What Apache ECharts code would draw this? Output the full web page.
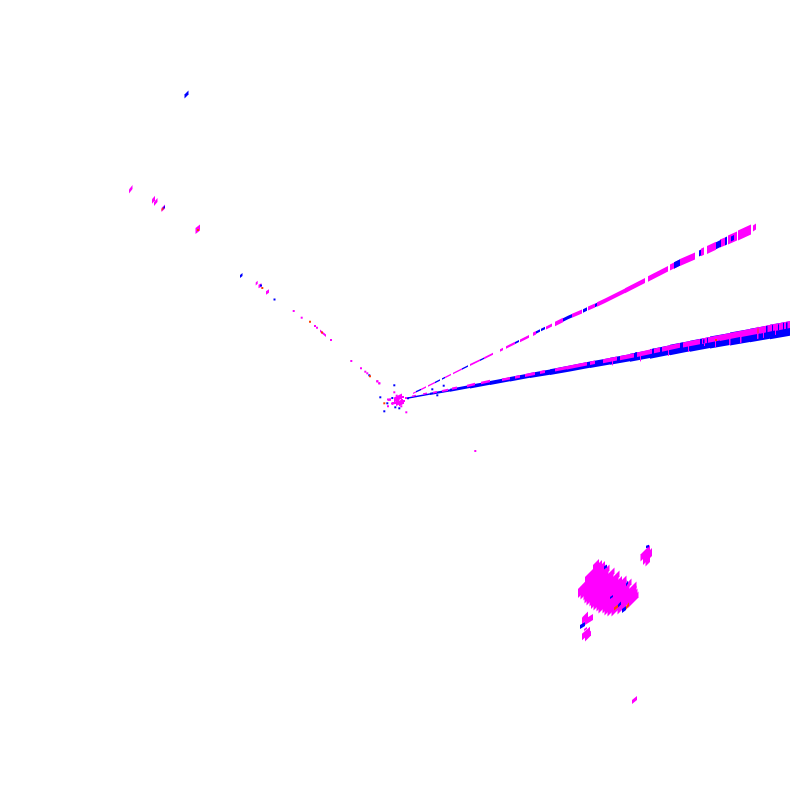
<!DOCTYPE html>
<html><head><meta charset="utf-8">
<style>html,body{margin:0;padding:0;background:#fff}#c{width:800px;height:800px}</style>
<script src="https://cdn.jsdelivr.net/npm/echarts@6/dist/echarts.min.js"></script>
</head><body><div id="c"></div>
<script>
// Each run: [x0, y0, x1, y1, spread]
const lowerRayBase = [
[408,398,430,393.9,1.5],[430,393.9,450,390.3,2.2],[450,390.3,470,386.6,3],[470,386.6,490,383,3.6],
[490,383,510,379.2,4],[510,379.2,530,375.5,4.6],[530,375.5,550,372.2,5.2],[550,372.2,570,368.5,5.8],
[570,368.5,590,364.7,6.2],[590,364.7,610,361.2,6.5],[610,361.2,630,357.8,7],[630,357.8,650,354,8],
[650,354,670,350,9.5],[670,350,690,346.2,10.3],[690,346.2,710,342.5,11],[710,342.5,730,339,11.8],
[730,339,750,335.5,12.8],[750,335.5,770,332,13.7],[770,332,790,328.5,14.7]
];
const lowerRayMagenta = [
[412,396.2,416,395.4,1.4],[423,394,427,393.2,1.4],[433,392.6,437,391.8,1.8],[442,391,448,389.8,2.2],
[452,388.6,457,387.6,2.2],[467,386,475,384,2.6],[481,383,490,381,2.6],[502,379.8,510,378.2,2.6],
[515,377.3,520,376.3,2.8],[525,375.4,535,373.4,3],[540,372.4,545,371.4,3],[555,370,567,367.6,3.2],
[567,367.8,587,363.7,3.6],[590,363.2,595,362.3,3.6],[603,361.2,617,358.5,4],[620,358.1,634,355.3,4.2],
[637,354.8,652,351.4,4.6],[654,351,660,349.6,4.6],[662,349.3,680,345.4,4.8],[683,345,700,341.6,5.2],[702,341.2,720,337.8,5.6],
[720,337.9,740,334,6],[740,334.1,760,330.2,6.4],[760,330.4,775,327.2,6.8],[775,327.4,790,324.5,7],
[704,343,705,343,6],[729,341.5,730.5,341.2,7],[740,337.5,741.5,337.2,11],[757,333,758.5,332.7,12],[763,333,764,332.8,10],[775,331,776,330.8,8],
[612,362,613,361.8,7],[640,357,641,356.8,9],[668,351,669,350.8,10],[688,347,689,346.8,10],[715,342,716,341.8,10]
];
const upperRayMagenta = [
[413,393.3,416,391.8,1.2],[421,389.5,426,387,1.4],[428,386,435,382.5,1.4],[445,377.5,451,374.5,1.6],
[453,373.5,462,369,1.7],[470,365,480,360.2,1.8],[484,358.2,493,353.8,2],[500,350.5,503,349,2.4],
[506,347.5,515,343,2.4],[520,340.8,529,336.3,2.8],[533,334.3,536,332.8,3.4],[546,328,552,325,3],
[555,324,563,320,4.5],[572,315.8,582,311.5,4],[588,308.6,595,305.5,4],[597,304.6,605,300.8,4.5],
[605,300.8,625,290.8,4.6],[625,290.8,645,280.5,5],[648,279,668,268.8,5.5],[670,267.6,680,262.5,6],
[680,262.5,695,256,7],[701,252.5,704,251,7.5],[707,250,716,245.8,8],[720,243.5,725,241.5,8],
[728,240,737,236,9],[738,235.5,751,229.5,10],[753,228.5,756,226.5,6]
];
const blobMagenta = [
[593,568,599,562,6],[585,580,602,563,6],[578,592,605,564,6],[578,595,605.5,567.5,6],
[580.5,596.5,609.5,567.5,6],[583.5,597.5,608.5,572.5,6],[584.5,600.5,614.5,570.5,6],[586.5,602.5,613.5,575.5,6],
[589.5,603.5,619.5,573.5,6],[591,606,618.5,578.5,6],[593.5,607.5,622,579,6],[596.5,608.5,626.5,578.5,6],
[598.5,610.5,626.5,582.5,6],[602.5,610.5,631.5,581.5,6],[604.5,612.5,629.5,587.5,6],[607.5,613.5,636.5,584.5,6],
[611.5,613.5,636.5,588.5,6],[617.5,611.5,637.5,591.5,6],[627.5,605.5,638.5,594.5,6]
];
const smallBlobsMagenta = [
[640.5,558,650,548.5,7],[643,561,652,552,8],[645.5,563,650,558.5,7],
[582,621,588,615,7],[585,622,593,617,6],[584,630,587,628,2],
[582,637,590,630,6.5],[585,639,591,633,5],[632,702,637,698,4],
[129,191.5,132.5,187,4],[152,201.5,155,198,4.5],[154,204,157.5,200,4],[161.5,210,165,206.5,4],[195.5,231,200,227.5,6],
[255.7,284,257.7,282.3,3],[258.5,286.5,261.5,285,3.5],[266,293,269,291,3.5],[320,330.7,326,335.7,2.6],
[394,400,402,396,5],[396,404,403,401,4],[388,400,391,399.5,2],[392,404,396.5,402.5,2],[399,405,404,402,3]
];
const blueMarks = [
[416,391.8,421,389.5,1.4],[435,382.5,440,380,1.5],[442,379,445,377.5,1.4],[462,369,468,366,1.6],
[480,360.2,484,358.2,1.6],[515,343,519,341,2.2],[536,332.5,540,330.5,2.5],[541,330,545,328,2.5],
[563,320,568,317.6,3.5],[568,317.6,572,315.8,3.5],[583,311,587,309,3.5],[595,305.5,597,304.5,3.5],
[674,265.5,680,262.5,6.5],[699,253.5,701,252.5,6],[716,245.8,721,243.3,7],[725,241.5,727,240.5,8],[731,239,734,237.5,5],
[766,330.5,767.5,330.2,9],[772,329.2,773,329,8],[778,327.5,779,327.3,6],[783,326.5,784,326.3,7],[786,326,787.5,325.7,7],
[707,340.5,708,340.3,5],[703,341.5,704.5,341.2,4],[635,355,637,354.6,5],[652,351.4,654,351,5],[680,345.5,683,345,5],
[184.5,96.5,188.5,92.5,4],[240,276.5,242.5,274.5,3],[580,627,585,624,4],[646,547,649,546,2.5],
[604,568,607,566,3],[626,585,628,582,3],[610,598,613,596,2],[618,606,621,603,3],[622,611,626,608,4],
[162.5,209,165,206.5,2]
];
const orangeMarks = [
[614,609,618,606,3],[626,608,629,604,3.5],[161.5,210,163.5,208,2],[757.5,331,758.5,330.8,5]
];
const magentaDots = [
[377.3,381.3],[379.3,383.3],[394.3,392.3],[396.7,395.7],[398,397],[396,398],[398,400],[397,402],[395,403],[393,403],
[388,399.5],[390,399.5],[392,403.5],[401,398],[403,397],[402,400],[404,401],[401,403],[403,403],[388,406.3],[401.3,406.3],
[406.3,412.3],[475.3,451],[293.7,311],[301.7,317.7],[315,326],[317,327.7],[331,340],[351.3,361],[361,368.3],[365.3,371.7],
[367.3,373.3],[377.3,381.3],[379.3,383.3],[406,398]
];
const blueDots = [
[394.3,385.3],[380.3,397.3],[408,398.3],[392.3,398],[387.3,403.3],[384.3,411.3],[395.3,407.3],[399.3,408.3],
[432.3,389.3],[443.7,385.7],[437.3,395.3],[274.5,299.5],[369.3,375.3],[261,285.5]
];
const orangeDots = [
[370,376.3],[384.3,403.3],[310,321.7],[262.3,288],[716,340],[322,332.5],[198,230]
];

const C = {magenta:'#ff00ff', blue:'#0000ff', orange:'#ff4000'};
function renderRun(p, api){
  const x0=api.value(0), y0=api.value(1), x1=api.value(2), y1=api.value(3), s=api.value(4)/2;
  const pts=[[x0,y0-s],[x1,y1-s],[x1,y1+s],[x0,y0+s]].map(q=>api.coord(q));
  return {type:'polygon', shape:{points:pts}, style:{fill:api.visual('color')}};
}
function runs(data,color){
  return {type:'custom', renderItem:renderRun, data, silent:true, itemStyle:{color},
    encode:{x:[0,2],y:[1,3]}, clip:false, animation:false};
}
function dots(data,color){
  return {type:'scatter', data, symbol:'rect', symbolSize:2, silent:true, itemStyle:{color,opacity:1}, animation:false};
}
const chart = echarts.init(document.getElementById('c'),null,{renderer:'canvas'});
chart.setOption({
  backgroundColor:'#ffffff', animation:false, tooltip:{show:false}, legend:{show:false},
  grid:{left:0,right:0,top:0,bottom:0},
  xAxis:{type:'value',min:0,max:800,show:false},
  yAxis:{type:'value',min:0,max:800,inverse:true,show:false},
  series:[
    runs(lowerRayBase,C.blue),
    runs(lowerRayMagenta,C.magenta),
    runs(upperRayMagenta,C.magenta),
    runs(blobMagenta,C.magenta),
    runs(smallBlobsMagenta,C.magenta),
    runs(blueMarks,C.blue),
    runs(orangeMarks,C.orange),
    dots(magentaDots,C.magenta),
    dots(blueDots,C.blue),
    dots(orangeDots,C.orange)
  ]
});
</script></body></html>
